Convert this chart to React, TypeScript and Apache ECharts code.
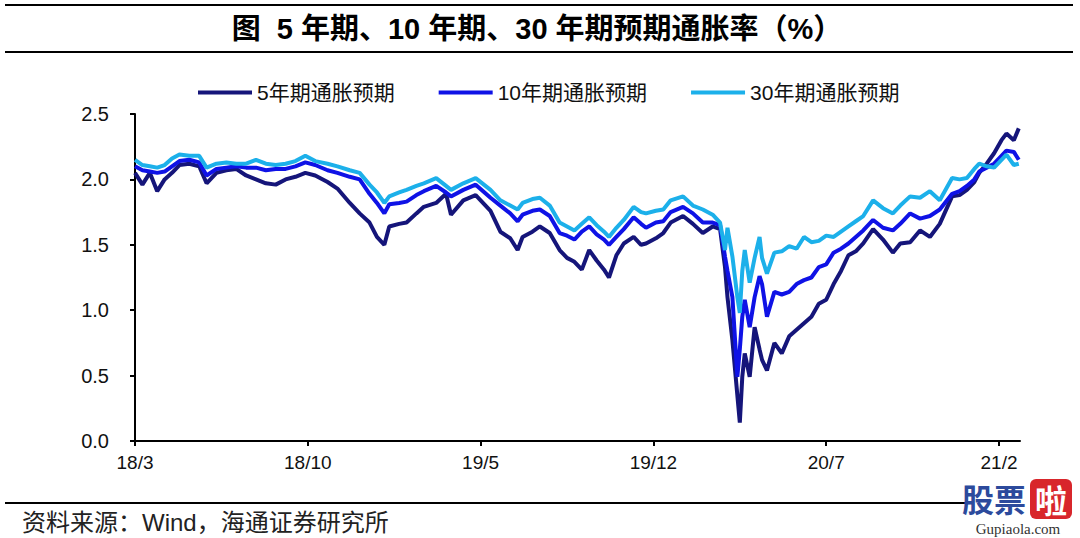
import React, { useEffect, useRef } from "react";
import * as echarts from "echarts";

// months since 2018-03
const months = [
  0, 0.3, 0.6, 0.9, 1.2, 1.5, 1.8, 2.2, 2.6, 2.9,
  3.3, 3.7, 4.1, 4.5, 4.9, 5.3, 5.7, 6.1, 6.5, 6.9,
  7.3, 7.8, 8.2, 8.7, 9.1, 9.5, 9.8, 10.1, 10.3, 10.7,
  11.0, 11.4, 11.7, 12.2, 12.6, 12.8, 13.3, 13.8, 14.4, 14.8,
  15.2, 15.5, 15.7, 16.1, 16.4, 16.8, 17.2, 17.5, 17.8, 18.1,
  18.4, 18.7, 19.0, 19.2, 19.5, 19.8, 20.2, 20.5, 20.7, 21.1,
  21.4, 21.7, 22.2, 22.6, 23.0, 23.4, 23.7, 23.9, 24.0, 24.2,
  24.4, 24.5, 24.6, 24.7, 24.9, 25.1, 25.3, 25.4, 25.6, 25.9,
  26.2, 26.5, 26.8, 27.1, 27.4, 27.7, 28.0, 28.3, 28.6, 28.9,
  29.2, 29.5, 29.9, 30.3, 30.7, 31.0, 31.4, 31.8, 32.2, 32.6,
  33.1, 33.4, 33.7, 34.0, 34.2, 34.5, 34.8, 35.1, 35.3, 35.6, 35.8,
];

const tickMonths = [0, 7, 14, 21, 28, 35];
const tickLabels = ["18/3", "18/10", "19/5", "19/12", "20/7", "21/2"];

const seriesNames = ["5年期通胀预期", "10年期通胀预期", "30年期通胀预期"];

const y5 = [
  2.05, 1.96, 2.05, 1.91, 2.0, 2.05, 2.11, 2.12, 2.1, 1.97,
  2.05, 2.07, 2.08, 2.03, 2.0, 1.97, 1.96, 2.0, 2.02, 2.05,
  2.03, 1.98, 1.93, 1.82, 1.74, 1.67, 1.56, 1.5, 1.64, 1.66,
  1.67, 1.74, 1.79, 1.82, 1.89, 1.73, 1.84, 1.88, 1.76, 1.6,
  1.55, 1.46, 1.56, 1.6, 1.64, 1.59, 1.46, 1.4, 1.37, 1.31,
  1.46, 1.38, 1.31, 1.25, 1.42, 1.51, 1.56, 1.5, 1.51, 1.55,
  1.59, 1.67, 1.72, 1.66, 1.59, 1.64, 1.62, 1.33, 1.1, 0.77,
  0.35, 0.14, 0.49, 0.67, 0.49, 0.87, 0.7, 0.62, 0.54, 0.75,
  0.67, 0.8, 0.85, 0.9, 0.95, 1.05, 1.08, 1.2, 1.3, 1.42,
  1.45, 1.51, 1.62, 1.54, 1.44, 1.51, 1.52, 1.61, 1.56, 1.66,
  1.87, 1.88, 1.92, 1.98, 2.05, 2.12, 2.2, 2.3, 2.35, 2.3, 2.39,
];

const y10 = [
  2.1, 2.07, 2.06, 2.05, 2.06, 2.1, 2.14, 2.15, 2.13, 2.03,
  2.08, 2.09, 2.1, 2.09, 2.09, 2.07, 2.08, 2.08, 2.1, 2.13,
  2.11, 2.07, 2.05, 2.02, 2.0, 1.89, 1.82, 1.74, 1.81, 1.82,
  1.83, 1.88, 1.91, 1.95, 1.9, 1.87, 1.92, 1.96, 1.86, 1.8,
  1.74, 1.68, 1.73, 1.76, 1.77, 1.72, 1.59, 1.57, 1.54, 1.6,
  1.64, 1.58, 1.54, 1.5, 1.56, 1.62, 1.71, 1.66, 1.63, 1.67,
  1.68, 1.75, 1.79, 1.74, 1.67, 1.67, 1.65, 1.41, 1.3, 1.1,
  0.49, 0.7, 0.95, 1.08, 0.87, 1.1, 1.26, 1.2, 0.95, 1.14,
  1.12, 1.14, 1.2, 1.23, 1.25, 1.33, 1.35, 1.44, 1.47, 1.51,
  1.56, 1.61, 1.69, 1.63, 1.61, 1.66, 1.74, 1.7, 1.72, 1.77,
  1.89, 1.91, 1.95, 2.0, 2.06, 2.09, 2.12, 2.18, 2.22, 2.21, 2.15,
];

const y30 = [
  2.15, 2.11, 2.1, 2.09, 2.11, 2.16, 2.19, 2.18, 2.18, 2.09,
  2.12, 2.13, 2.12, 2.12, 2.15, 2.12, 2.11, 2.12, 2.14, 2.18,
  2.14, 2.12, 2.1, 2.07, 2.05, 1.96, 1.9, 1.82, 1.87, 1.9,
  1.92, 1.95, 1.97, 2.01, 1.95, 1.92, 1.97, 2.01, 1.92, 1.84,
  1.8, 1.77, 1.82, 1.85, 1.86, 1.8, 1.67, 1.64, 1.61, 1.66,
  1.71, 1.65, 1.6, 1.56, 1.63, 1.69, 1.79, 1.75, 1.74, 1.76,
  1.77, 1.84, 1.87, 1.8, 1.77, 1.73, 1.67, 1.46, 1.63, 1.41,
  1.1, 0.98, 1.3, 1.46, 1.21, 1.4, 1.56, 1.4, 1.28, 1.44,
  1.45, 1.49, 1.47, 1.56, 1.52, 1.53, 1.57, 1.56, 1.6, 1.64,
  1.68, 1.72, 1.84, 1.78, 1.74, 1.8, 1.87, 1.86, 1.91, 1.84,
  2.01, 2.0, 2.01, 2.08, 2.12, 2.1, 2.09, 2.15, 2.19, 2.11, 2.12,
];

const colors = ["#15157a", "#0f12e6", "#1cb0ea"];

const FONT = "'Liberation Sans', Arial, 'Noto Sans CJK SC', sans-serif";

export default function App() {
  const ref = useRef<HTMLDivElement>(null);

  useEffect(() => {
    if (!ref.current) return;
    const chart = echarts.init(ref.current, null, { renderer: "svg" });
    const zip = (ys: number[]) => months.map((m, i) => [m, ys[i]]);
    const allSeries = [y5, y10, y30];

    chart.setOption({
      animation: false,
      backgroundColor: "#ffffff",
      textStyle: { fontFamily: FONT },
      grid: { left: 135, right: 60, top: 114, bottom: 97, containLabel: false },
      legend: {
        left: 193,
        top: 77,
        itemWidth: 54,
        itemHeight: 4,
        itemGap: 44,
        icon: "rect",
        textStyle: { fontSize: 21, color: "#111", fontFamily: FONT },
        data: seriesNames,
      },
      xAxis: {
        type: "value",
        min: 0,
        max: 35.85,
        splitLine: { show: false },
        axisLine: { show: true, lineStyle: { color: "#000", width: 2 } },
        axisTick: {
          show: true,
          customValues: tickMonths,
          length: 5,
          lineStyle: { color: "#000", width: 2 },
        },
        axisLabel: {
          customValues: tickMonths,
          fontSize: 19,
          color: "#111",
          margin: 12,
          formatter: (v: number) => {
            const i = tickMonths.indexOf(Math.round(v));
            return i >= 0 ? tickLabels[i] : "";
          },
        },
      },
      yAxis: {
        type: "value",
        min: 0,
        max: 2.5,
        interval: 0.5,
        splitLine: { show: false },
        axisLine: { show: true, lineStyle: { color: "#000", width: 2 } },
        axisTick: { show: true, length: 5, lineStyle: { color: "#000", width: 2 } },
        axisLabel: {
          fontSize: 20,
          color: "#111",
          margin: 26,
          formatter: (v: number) => v.toFixed(1),
        },
      },
      series: seriesNames.map((name, k) => ({
        name,
        type: "line",
        showSymbol: false,
        symbol: "none",
        data: zip(allSeries[k]),
        lineStyle: { color: colors[k], width: 4 },
        itemStyle: { color: colors[k] },
      })),
      graphic: [
        { type: "line", shape: { x1: 5, y1: 5, x2: 1073, y2: 5 }, style: { stroke: "#000", lineWidth: 2 } },
        {
          type: "text",
          x: 537,
          y: 29,
          style: {
            text: "图  5 年期、10 年期、30 年期预期通胀率（%）",
            fontSize: 29,
            fontWeight: "bold",
            fontFamily: FONT,
            fill: "#000",
            textAlign: "center",
            textVerticalAlign: "middle",
          },
        },
        { type: "line", shape: { x1: 5, y1: 52, x2: 1073, y2: 52 }, style: { stroke: "#000", lineWidth: 2 } },
        { type: "line", shape: { x1: 5, y1: 503, x2: 965, y2: 503 }, style: { stroke: "#000", lineWidth: 2 } },
        {
          type: "text",
          x: 22,
          y: 522,
          style: {
            text: "资料来源：Wind，海通证券研究所",
            fontSize: 24,
            fontFamily: FONT,
            fill: "#222",
            textVerticalAlign: "middle",
          },
        },
        {
          type: "text",
          x: 962,
          y: 498,
          style: {
            text: "股票",
            fontSize: 32,
            fontWeight: "bold",
            fontFamily: "'Noto Sans CJK SC', sans-serif",
            fill: "#2c4a9c",
            textVerticalAlign: "middle",
          },
        },
        { type: "rect", shape: { x: 1030, y: 479, width: 42, height: 40, r: 6 }, style: { fill: "#d8262b" } },
        {
          type: "text",
          x: 1051,
          y: 499,
          style: {
            text: "啦",
            fontSize: 32,
            fontWeight: "bold",
            fontFamily: "'Noto Sans CJK SC', sans-serif",
            fill: "#ffffff",
            textAlign: "center",
            textVerticalAlign: "middle",
          },
        },
        {
          type: "text",
          x: 1018,
          y: 529,
          style: {
            text: "Gupiaola.com",
            fontSize: 15,
            fontFamily: "'Liberation Serif', serif",
            fill: "#333",
            textAlign: "center",
            textVerticalAlign: "middle",
          },
        },
      ],
    });

    return () => chart.dispose();
  }, []);

  return (
    <div
      ref={ref}
      style={{ position: "fixed", left: 0, top: 0, width: 1080, height: 538, background: "#fff" }}
    />
  );
}
